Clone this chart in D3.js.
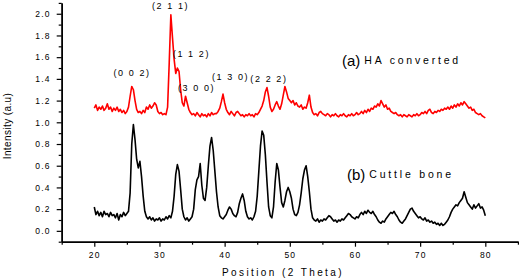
<html>
    <head>
        <meta charset="utf-8">
        <title>XRD pattern</title>
        <style type="text/css">
            body { margin: 0; background: #fff; }
            text { font-family: "Liberation Sans", Arial, sans-serif; fill: #000; }
        </style>
        <script src="https://d3js.org/d3.v7.min.js"></script>
    </head>
    <body>
    	<svg width="520" height="280"></svg>
    	<script>
		// 2 theta positions: 20..80 in steps of 0.25
		var startPos = 20, stepPos = 0.25;

		// (a) HA converted
		var haConverted = [
			1.13,1.16,1.11,1.14, 1.12,1.15,1.11,1.13,
			1.17,1.12,1.14,1.10, 1.13,1.11,1.14,1.10,
			1.12,1.09,1.11,1.08, 1.10,1.14,1.24,1.33,
			1.30,1.20,1.12,1.09, 1.10,1.08,1.11,1.09,
			1.14,1.12,1.16,1.13, 1.15,1.18,1.16,1.10,
			1.08,1.09,1.07,1.08, 1.07,1.14,1.55,1.99,
			1.78,1.58,1.45,1.50, 1.47,1.30,1.18,1.15,
			1.24,1.18,1.12,1.09, 1.07,1.08,1.06,1.09,
			1.07,1.05,1.08,1.06, 1.07,1.05,1.08,1.06,
			1.09,1.07,1.08,1.08, 1.10,1.13,1.19,1.26,
			1.18,1.12,1.09,1.07, 1.10,1.08,1.06,1.09,
			1.10,1.08,1.06,1.07, 1.05,1.07,1.06,1.08,
			1.06,1.07,1.05,1.08, 1.07,1.09,1.12,1.15,
			1.20,1.28,1.32,1.24, 1.14,1.10,1.12,1.16,
			1.19,1.15,1.12,1.17, 1.25,1.33,1.28,1.22,
			1.20,1.18,1.20,1.16, 1.18,1.15,1.14,1.16,
			1.12,1.14,1.13,1.18, 1.25,1.14,1.09,1.07,
			1.08,1.06,1.09,1.10, 1.08,1.07,1.06,1.08,
			1.07,1.05,1.07,1.06, 1.08,1.06,1.05,1.07,
			1.06,1.08,1.06,1.05, 1.07,1.06,1.08,1.06,
			1.07,1.09,1.07,1.08, 1.10,1.08,1.11,1.09,
			1.12,1.10,1.13,1.12, 1.15,1.14,1.17,1.15,
			1.20,1.17,1.14,1.16, 1.12,1.13,1.10,1.09,
			1.08,1.09,1.07,1.06, 1.07,1.05,1.07,1.06,
			1.05,1.07,1.06,1.05, 1.07,1.06,1.08,1.06,
			1.07,1.09,1.08,1.10, 1.08,1.11,1.12,1.09,
			1.08,1.10,1.09,1.11, 1.10,1.12,1.11,1.13,
			1.12,1.14,1.12,1.15, 1.13,1.16,1.14,1.17,
			1.15,1.18,1.16,1.19, 1.17,1.15,1.13,1.14,
			1.11,1.12,1.09,1.08, 1.07,1.08,1.06,1.05,
			1.04
		];

		// (b) Cuttle bone
		var cuttleBone = [
			0.22,0.15,0.18,0.14, 0.17,0.13,0.18,0.15,
			0.16,0.13,0.17,0.14, 0.15,0.12,0.16,0.10,
			0.15,0.13,0.17,0.14, 0.16,0.18,0.35,0.80,
			0.98,0.84,0.66,0.58, 0.64,0.50,0.32,0.18,
			0.13,0.11,0.13,0.10, 0.12,0.09,0.11,0.10,
			0.12,0.09,0.11,0.10, 0.13,0.11,0.14,0.12,
			0.18,0.32,0.52,0.61, 0.55,0.38,0.20,0.13,
			0.10,0.12,0.09,0.11, 0.13,0.20,0.38,0.47,
			0.50,0.62,0.42,0.30, 0.28,0.40,0.60,0.78,
			0.86,0.74,0.55,0.36, 0.22,0.14,0.12,0.11,
			0.13,0.15,0.19,0.22, 0.20,0.16,0.14,0.13,
			0.17,0.25,0.30,0.34, 0.28,0.18,0.13,0.11,
			0.12,0.10,0.13,0.18, 0.32,0.55,0.78,0.92,
			0.88,0.70,0.45,0.22, 0.14,0.12,0.22,0.45,
			0.62,0.56,0.40,0.26, 0.22,0.28,0.36,0.40,
			0.36,0.30,0.20,0.15, 0.14,0.17,0.24,0.35,
			0.48,0.56,0.60,0.50, 0.36,0.20,0.12,0.10,
			0.09,0.11,0.08,0.10, 0.09,0.11,0.10,0.12,
			0.14,0.13,0.11,0.09, 0.10,0.08,0.10,0.09,
			0.11,0.10,0.12,0.14, 0.16,0.15,0.13,0.12,
			0.11,0.13,0.12,0.15, 0.17,0.15,0.18,0.16,
			0.19,0.17,0.16,0.18, 0.15,0.13,0.10,0.08,
			0.07,0.09,0.08,0.11, 0.13,0.15,0.17,0.16,
			0.18,0.15,0.13,0.10, 0.08,0.07,0.09,0.11,
			0.14,0.17,0.20,0.21, 0.18,0.16,0.14,0.12,
			0.13,0.11,0.10,0.12, 0.09,0.10,0.08,0.09,
			0.07,0.08,0.06,0.07, 0.05,0.07,0.05,0.06,
			0.08,0.10,0.13,0.17, 0.20,0.22,0.24,0.23,
			0.26,0.28,0.30,0.36, 0.31,0.26,0.24,0.22,
			0.20,0.24,0.21,0.23, 0.25,0.21,0.22,0.19,
			0.14
		];

		var xTicks = [20, 30, 40, 50, 60, 70, 80];
		var xMinorTicks = [15, 25, 35, 45, 55, 65, 75, 85];
		var yTicks = [0.0, 0.2, 0.4, 0.6, 0.8, 1.0, 1.2, 1.4, 1.6, 1.8, 2.0];
		var yMinorTicks = [-0.1, 0.1, 0.3, 0.5, 0.7, 0.9, 1.1, 1.3, 1.5, 1.7, 1.9, 2.1];

		// peak labels: [label, 2theta, intensity of label baseline]
		var peakLabels = [
			["(0 0 2)", 25.8, 1.43],
			["(2 1 1)", 31.7, 2.04],
			["(1 1 2)", 34.9, 1.60],
			["(3 0 0)", 35.7, 1.29],
			["(1 3 0)", 40.9, 1.39],
			["(2 2 2)", 46.8, 1.37]
		];

		var svg = d3.select("svg");

		var xScale = d3.scaleLinear().domain([15, 85]).range([61.7, 517.9]);
		var yScale = d3.scaleLinear().domain([-0.1, 2.1]).range([241.7, 2.9]);

		var pos = (d, i) => xScale(startPos + i * stepPos);
		var line = d3.line().x(pos).y(d => yScale(d));

		svg.append("path")
			.datum(cuttleBone)
			.attr("fill", "none")
			.attr("stroke", "#000")
			.attr("stroke-width", 1.6)
			.attr("stroke-linejoin", "round")
			.attr("d", line);

		svg.append("path")
			.datum(haConverted)
			.attr("fill", "none")
			.attr("stroke", "#ff0000")
			.attr("stroke-width", 1.6)
			.attr("stroke-linejoin", "round")
			.attr("d", line);

		// bottom axis
		svg.append("g")
			.attr("transform", `translate(0,${yScale(-0.1)})`)
			.call(d3.axisBottom(xScale).tickValues(xTicks).tickSize(5).tickPadding(5).tickSizeOuter(0));
		svg.append("g")
			.attr("transform", `translate(0,${yScale(-0.1)})`)
			.call(d3.axisBottom(xScale).tickValues(xMinorTicks).tickSize(3).tickSizeOuter(0).tickFormat(""));

		// left axis
		svg.append("g")
			.attr("transform", `translate(${xScale(15)},0)`)
			.call(d3.axisLeft(yScale).tickValues(yTicks).tickSize(5).tickPadding(6).tickSizeOuter(0).tickFormat(d3.format(".1f")));
		svg.append("g")
			.attr("transform", `translate(${xScale(15)},0)`)
			.call(d3.axisLeft(yScale).tickValues(yMinorTicks).tickSize(3).tickSizeOuter(0).tickFormat(""));

		svg.selectAll(".domain").attr("stroke", "#000").attr("stroke-width", 1.5);
		svg.selectAll(".tick line").attr("stroke", "#000").attr("stroke-width", 1.2);
		svg.selectAll(".tick text")
			.style("font-size", "8.5px")
			.style("letter-spacing", "1.2px")
			.attr("fill", "#000");

		// axis titles
		svg.append("text")
			.text("Position (2 Theta)")
			.attr("x", 283)
			.attr("y", 276)
			.attr("text-anchor", "middle")
			.style("font-size", "10px")
			.style("letter-spacing", "2.4px");

		svg.append("text")
			.text("Intensity (a.u)")
			.attr("transform", "translate(11,126) rotate(-90)")
			.attr("text-anchor", "middle")
			.style("font-size", "10px")
			.style("letter-spacing", "0.4px");

		// peak annotations
		svg.append("g")
			.selectAll("text")
			.data(peakLabels)
			.enter()
			.append("text")
				.text(d => d[0])
				.attr("x", d => xScale(d[1]))
				.attr("y", d => yScale(d[2]))
				.attr("text-anchor", "middle")
				.style("font-size", "9px")
				.style("letter-spacing", "1.6px");

		// series labels
		var seriesLabels = [
			{tag: "(a)", name: "HA converted", x: 342, y: 66},
			{tag: "(b)", name: "Cuttle bone", x: 347, y: 180}
		];
		var sl = svg.append("g")
			.selectAll("text")
			.data(seriesLabels)
			.enter()
			.append("text")
				.attr("x", d => d.x)
				.attr("y", d => d.y);
		sl.append("tspan")
			.text(d => d.tag)
			.style("font-size", "15px");
		sl.append("tspan")
			.text(d => d.name)
			.attr("dx", 4)
			.attr("dy", -2)
			.style("font-size", "10.5px")
			.style("letter-spacing", "2.8px");
    	</script>
  </body>
</html>
